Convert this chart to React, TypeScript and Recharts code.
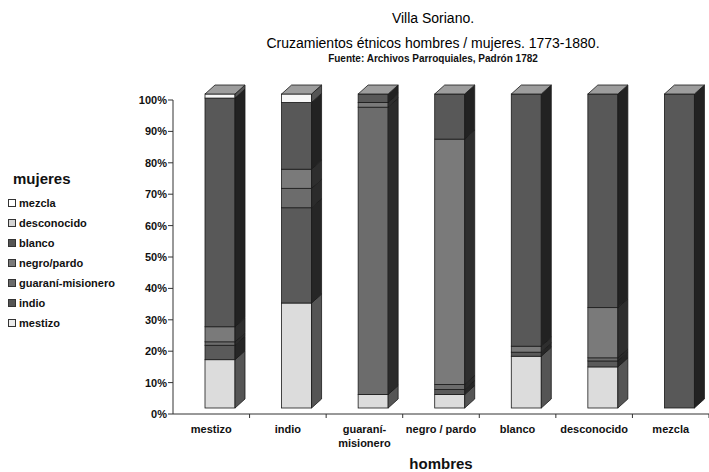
import { Bar, BarChart, Legend, XAxis, YAxis } from "recharts"

// hombres (x categories)
const categories = ["mestizo", "indio", "guaraní-\nmisionero", "negro / pardo", "blanco", "desconocido", "mezcla"]

// mujeres (stack segments, % of each column, bottom to top)
const mestizo = [15.4, 33.5, 4.3, 4.3, 16.5, 13.1, 0]
const indio = [4.6, 30.4, 0, 1.6, 1.3, 1.9, 0]
const guarani = [1.1, 6.2, 91.5, 1.6, 0, 1.0, 0]
const negroPardo = [4.8, 6.1, 1.5, 78.3, 1.9, 16.0, 0]
const blanco = [72.9, 21.3, 2.7, 14.4, 80.4, 68.1, 100]
const desconocido = [0, 0, 0, 0, 0, 0, 0]
const mezcla = [1.3, 2.7, 0, 0, 0, 0, 0]

const yTicks = [0, 0.1, 0.2, 0.3, 0.4, 0.5, 0.6, 0.7, 0.8, 0.9, 1]

const series = [
  { key: "mestizo", name: "mestizo", values: mestizo, front: "#dcdcdc", side: "#555555", marker: "#ececec" },
  { key: "indio", name: "indio", values: indio, front: "#5a5a5a", side: "#262626", marker: "#555555" },
  { key: "guarani", name: "guaraní-misionero", values: guarani, front: "#6c6c6c", side: "#2b2b2b", marker: "#6a6a6a" },
  { key: "negroPardo", name: "negro/pardo", values: negroPardo, front: "#7a7a7a", side: "#2e2e2e", marker: "#7a7a7a" },
  { key: "blanco", name: "blanco", values: blanco, front: "#585858", side: "#222222", marker: "#555555" },
  { key: "desconocido", name: "desconocido", values: desconocido, front: "#cfcfcf", side: "#4d4d4d", marker: "#d4d4d4" },
  { key: "mezcla", name: "mezcla", values: mezcla, front: "#f7f7f7", side: "#555555", marker: "#ffffff" },
]

const data = categories.map((name, i) => {
  const row: Record<string, string | number> = { name }
  series.forEach((s) => (row[s.key] = s.values[i]))
  return row
})

const W = 709
const H = 472
const LEFT = 173
const TOP = 100
const AXIS_H = 58
const BAND = (W - LEFT) / categories.length
// fake 3d look (excel style)
const DX = 10
const DY = 9
const SHIFT_X = 9
const SHIFT_Y = -6
const FONT = "'Liberation Sans', Arial, sans-serif"

function Block(props: any) {
  const { x, y, width, height, payload, idx } = props
  if (!height || height <= 0.1) return null
  const s = series[idx]
  const fx = x + SHIFT_X
  const fy = y + SHIFT_Y
  const isTop = series.slice(idx + 1).every((o) => !payload[o.key])
  return (
    <g stroke="#1a1a1a" strokeWidth={0.8}>
      <rect x={fx} y={fy} width={width} height={height} fill={s.front} />
      <polygon
        points={`${fx + width},${fy} ${fx + width + DX},${fy - DY} ${fx + width + DX},${fy + height - DY} ${fx + width},${fy + height}`}
        fill={s.side}
      />
      {isTop && (
        <polygon
          points={`${fx},${fy} ${fx + DX},${fy - DY} ${fx + width + DX},${fy - DY} ${fx + width},${fy}`}
          fill="#9d9d9d"
        />
      )}
    </g>
  )
}

function XTick(props: any) {
  const { x, y, payload } = props
  const lines = String(payload.value).split("\n")
  const axisY = H - AXIS_H
  return (
    <g>
      <line x1={x + BAND / 2} x2={x + BAND / 2} y1={axisY} y2={axisY + 4} stroke="#333" />
      <text x={x} y={y} textAnchor="middle" fontSize={11} fontWeight="bold" fill="#111" fontFamily={FONT}>
        {lines.map((l, i) => (
          <tspan key={i} x={x} dy={i === 0 ? 17 : 14}>
            {l}
          </tspan>
        ))}
      </text>
    </g>
  )
}

function MujeresLegend() {
  return (
    <div style={{ fontFamily: FONT, color: "#111" }}>
      <div style={{ fontSize: 15, fontWeight: "bold", marginLeft: 13, marginBottom: 6 }}>mujeres</div>
      {[...series].reverse().map((s) => (
        <div key={s.key} style={{ display: "flex", alignItems: "center", height: 20, fontSize: 11, fontWeight: "bold" }}>
          <span
            style={{
              display: "inline-block",
              width: 6,
              height: 6,
              background: s.marker,
              border: "1px solid #333",
              marginLeft: 8,
              marginRight: 3,
            }}
          />
          {s.name}
        </div>
      ))}
    </div>
  )
}

export default function App() {
  return (
    <div style={{ position: "relative", width: W, height: H, fontFamily: FONT, background: "#fff" }}>
      <style>{"body{margin:0}"}</style>
      <div style={{ position: "absolute", left: 0, width: 866, top: 10, textAlign: "center", fontSize: 14, color: "#000" }}>
        Villa Soriano.
      </div>
      <div style={{ position: "absolute", left: 0, width: 866, top: 35, textAlign: "center", fontSize: 14, color: "#000" }}>
        Cruzamientos étnicos hombres / mujeres. 1773-1880.
      </div>
      <div style={{ position: "absolute", left: 0, width: 866, top: 53, textAlign: "center", fontSize: 10, fontWeight: "bold", color: "#111" }}>
        Fuente: Archivos Parroquiales, Padrón 1782
      </div>
      <BarChart
        width={W}
        height={H}
        data={data}
        stackOffset="expand"
        barSize={30}
        margin={{ top: TOP, right: 0, left: 0, bottom: 0 }}
      >
        <XAxis
          dataKey="name"
          height={AXIS_H}
          interval={0}
          tickLine={false}
          tickSize={0}
          axisLine={{ stroke: "#333" }}
          tick={<XTick />}
          label={{ value: "hombres", position: "insideBottom", offset: 3, fontSize: 15, fontWeight: "bold", fill: "#111", fontFamily: FONT }}
        />
        <YAxis
          width={LEFT}
          domain={[0, 1]}
          ticks={yTicks}
          tickSize={5}
          tickMargin={1}
          tickLine={{ stroke: "#333" }}
          axisLine={{ stroke: "#333" }}
          tickFormatter={(v: number) => `${Math.round(v * 100)}%`}
          tick={{ fontSize: 11, fontWeight: "bold", fill: "#111", fontFamily: FONT }}
        />
        <Legend
          layout="vertical"
          align="center"
          verticalAlign="middle"
          wrapperStyle={{ left: 0, top: 170, width: 140 }}
          content={() => <MujeresLegend />}
        />
        {series.map((s, i) => (
          <Bar
            key={s.key}
            dataKey={s.key}
            name={s.name}
            stackId="a"
            fill={s.front}
            isAnimationActive={false}
            shape={(p: any) => <Block {...p} idx={i} />}
          />
        ))}
      </BarChart>
    </div>
  )
}
